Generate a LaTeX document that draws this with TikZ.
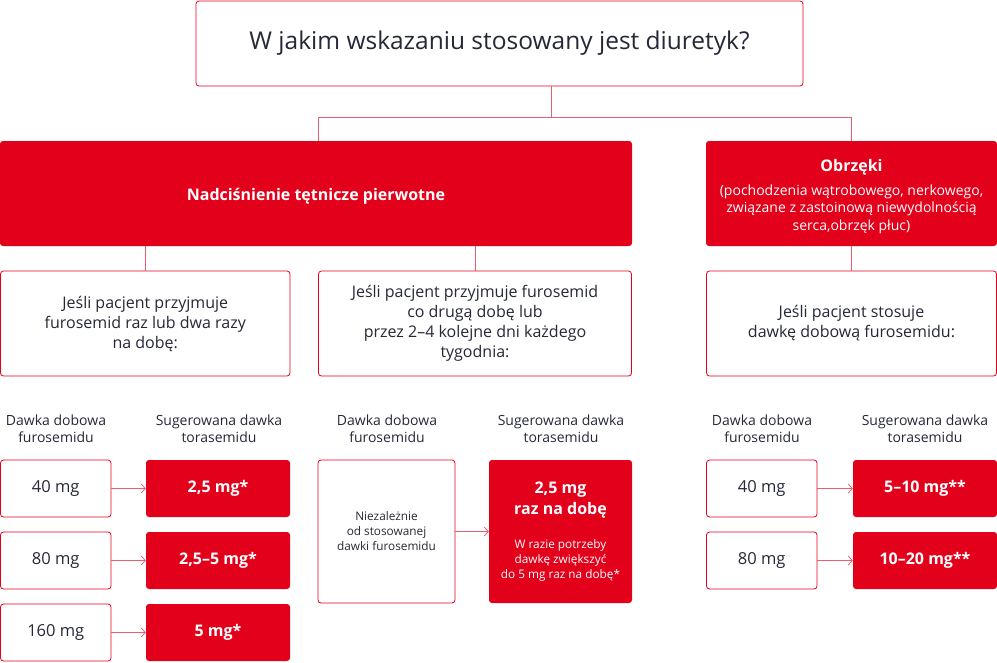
\documentclass[tikz,border=0pt]{standalone}
\usepackage{fontspec}
\setmainfont{Open Sans}
\usetikzlibrary{arrows.meta}
\definecolor{brand}{HTML}{E2001A}
\definecolor{linec}{HTML}{E8606F}
\definecolor{ink}{HTML}{262838}
\newcommand\fobrz{\fontsize{14}{17.5}\selectfont\mdseries}
\newcommand\fsmall{\fontsize{11.8}{15}\selectfont\mdseries}
\newcommand\fbig{\fontsize{16}{19}\selectfont\bfseries}
\begin{document}
\begin{tikzpicture}[x=1pt,y=-1pt,
  box/.style={draw=brand, line width=0.8pt, rounded corners=3pt, fill=white, text=ink, align=center, inner sep=0pt},
  redbox/.style={fill=brand, rounded corners=3pt, text=white, align=center, inner sep=0pt},
  conn/.style={draw=linec, line width=0.8pt},
  arr/.style={conn, -{Straight Barb[length=4pt,width=9pt]}},
  hdr/.style={text=ink, align=center, font=\fontsize{14}{17}\selectfont},
  subtxt/.style={font=\fontsize{16}{20}\selectfont},
  mgtxt/.style={font=\fontsize{16.5}{18}\selectfont},
  redmg/.style={font=\fontsize{16}{18}\selectfont\bfseries}
]
\useasboundingbox (0,0) rectangle (997,662);

% top
\node[box, minimum width=607pt, minimum height=85pt, font=\fontsize{24.5}{28}\selectfont] (top) at (499.5,43.5) {W jakim wskazaniu stosowany jest diuretyk?};

% level 1
\node[redbox, minimum width=632pt, minimum height=105pt] (nad) at (316,193.5) {};
\node[text=white, font=\fontsize{16}{18}\selectfont\bfseries, inner sep=0pt] (nadt) at (nad.center) [yshift=-3pt] {Nadciśnienie tętnicze pierwotne};
\node[redbox, minimum width=291pt, minimum height=105pt] (obr) at (851.5,193.5) {};
\node[text=white, align=center, inner sep=0pt, font=\fobrz] (obrt) at (obr.center) [yshift=-3pt] {\fbig Obrzęki\\[6.5pt]\fobrz (pochodzenia wątrobowego, nerkowego,\\ \fobrz związane z zastoinową niewydolnością\\ \fobrz serca,obrzęk płuc)};

\coordinate (jn) at (551,117);
\coordinate (jl) at (318,117);
\coordinate (jr) at (851,117);
\draw[conn] (jn |- top.south) -- (jn);
\draw[conn] (jl |- nad.north) -- (jl) -- (jr) -- (jr |- obr.north);

% level 2
\node[box, subtxt, minimum width=289.5pt, minimum height=105pt] (s1) at (145.25,323.5) {Jeśli pacjent przyjmuje\\ furosemid raz lub dwa razy\\ na dobę:};
\node[box, subtxt, minimum width=313pt, minimum height=105pt] (s2) at (475,323.5) {Jeśli pacjent przyjmuje furosemid\\ co drugą dobę lub\\ przez 2–4 kolejne dni każdego\\ tygodnia:};
\node[box, subtxt, minimum width=290pt, minimum height=105pt] (s3) at (851.5,323.5) {Jeśli pacjent stosuje\\ dawkę dobową furosemidu:};

\draw[conn] (s1.north) -- (s1.north |- nad.south);
\draw[conn] (s2.north) -- (s2.north |- nad.south);
\draw[conn] (s3.north) -- (s3.north |- obr.south);

% headers
\node[hdr] (h1) at (56,428.5) {Dawka dobowa\\ furosemidu};
\node[hdr] (h2) at (219,428.5) {Sugerowana dawka\\ torasemidu};
\node[hdr] (h3) at (387,428.5) {Dawka dobowa\\ furosemidu};
\node[hdr] (h4) at (561,428.5) {Sugerowana dawka\\ torasemidu};
\node[hdr] (h5) at (762,428.5) {Dawka dobowa\\ furosemidu};
\node[hdr] (h6) at (925,428.5) {Sugerowana dawka\\ torasemidu};

% left column
\node[box, mgtxt, minimum width=110.5pt, minimum height=57pt] (a1) at (55.75,488.5) {40 mg};
\node[box, mgtxt, minimum width=110.5pt, minimum height=57pt] (a2) at (55.75,560.5) {80 mg};
\node[box, mgtxt, minimum width=110.5pt, minimum height=57pt] (a3) at (55.75,632.5) {160 mg};
\node[redbox, redmg, minimum width=144pt, minimum height=57pt] (b1) at (218,488.5) {2,5 mg*};
\node[redbox, redmg, minimum width=144pt, minimum height=57pt] (b2) at (218,560.5) {2,5–5 mg*};
\node[redbox, redmg, minimum width=144pt, minimum height=57pt] (b3) at (218,632.5) {5 mg*};
\draw[arr] (a1.east) -- (b1.west);
\draw[arr] (a2.east) -- (b2.west);
\draw[arr] (a3.east) -- (b3.west);

% middle column
\node[box, minimum width=137pt, minimum height=143pt, font=\fsmall] (m1) at (386.5,531.5) {Niezależnie\\ od stosowanej\\ dawki furosemidu};
\node[redbox, minimum width=143pt, minimum height=143pt, font=\fsmall] (m2) at (560.5,531.5) {\fbig 2,5 mg\\[4pt] \fbig raz na dobę\\[19pt]\fsmall W razie potrzeby\\ \fsmall dawkę zwiększyć\\ \fsmall do 5 mg raz na dobę*};
\draw[arr] (m1.east) -- (m2.west);

% right column
\node[box, mgtxt, minimum width=110.5pt, minimum height=57pt] (c1) at (761.75,488.5) {40 mg};
\node[box, mgtxt, minimum width=110.5pt, minimum height=57pt] (c2) at (761.75,560.5) {80 mg};
\node[redbox, redmg, minimum width=144pt, minimum height=57pt] (d1) at (925,488.5) {5–10 mg**};
\node[redbox, redmg, minimum width=144pt, minimum height=57pt] (d2) at (925,560.5) {10–20 mg**};
\draw[arr] (c1.east) -- (d1.west);
\draw[arr] (c2.east) -- (d2.west);
\end{tikzpicture}
\end{document}
